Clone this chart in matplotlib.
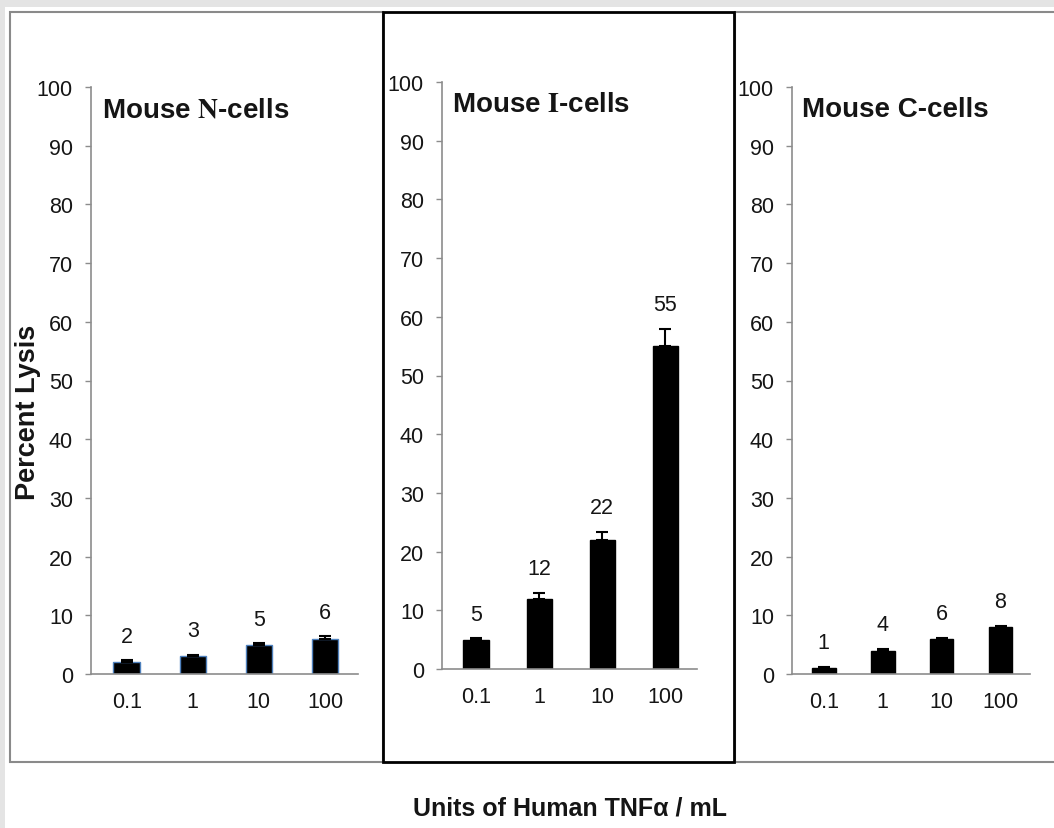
#!/usr/bin/env python3
"""Percent lysis of mouse N-, I- and C-cells by human TNF-alpha dose."""
import matplotlib

matplotlib.use("Agg")
import matplotlib.pyplot as plt
from matplotlib.patches import Rectangle

plt.rcParams["font.family"] = ["Liberation Sans", "DejaVu Sans"]
plt.rcParams["mathtext.fontset"] = "stix"

doses = ["0.1", "1", "10", "100"]

n_cells = [2, 3, 5, 6]
n_err = [0.3, 0.2, 0.2, 0.4]

i_cells = [5, 12, 22, 55]
i_err = [0.2, 0.9, 1.3, 2.9]

c_cells = [1, 4, 6, 8]
c_err = [0.2, 0.3, 0.2, 0.2]

W, H = 1054, 829
fig = plt.figure(figsize=(W / 100, H / 100), dpi=100)
fig.patch.set_facecolor("white")


def px_rect(x0, y0, x1, y1, **kw):
    # rectangle given in pixel coords measured from top-left
    r = Rectangle((x0 / W, 1 - y1 / H), (x1 - x0) / W, (y1 - y0) / H,
                  transform=fig.transFigure, **kw)
    fig.add_artist(r)
    return r


# light grey frame strips
px_rect(0, 0, W, 8, facecolor="#e4e4e4", edgecolor="none")
px_rect(0, 0, 5, H, facecolor="#e4e4e4", edgecolor="none")

# panel boxes
px_rect(10, 13, 383, 763, facecolor="none", edgecolor="#8a8a8a", lw=1.5)
px_rect(735, 13, 1060, 763, facecolor="none", edgecolor="#8a8a8a", lw=1.5)
px_rect(383, 13, 734, 763, facecolor="none", edgecolor="black", lw=2.0)

panels = [
    # (left, right, top, bottom) in px, title, values, errors, bar edge
    ((91, 358, 88, 675), r"Mouse $\mathbf{N}$-cells", n_cells, n_err, "#4f81bd"),
    ((442, 697, 83, 670), r"Mouse $\mathbf{I}$-cells", i_cells, i_err, "black"),
    ((792, 1030, 88, 675), "Mouse C-cells", c_cells, c_err, "black"),
]

text_col = "#151515"

for (l, r, t, b), title, vals, errs, edge in panels:
    ax = fig.add_axes([l / W, 1 - b / H, (r - l) / W, (b - t) / H])
    ax.set_facecolor("none")
    x = range(len(doses))
    ax.bar(x, vals, width=0.4, color="black", edgecolor=edge, linewidth=1.0,
           yerr=[[0] * len(errs), errs], capsize=4,
           error_kw=dict(ecolor="black", elinewidth=1.5, capthick=1.5))
    for xi, v, e in zip(x, vals, errs):
        ax.annotate(str(v), (xi, v + e), xytext=(0, 10), textcoords="offset points",
                    ha="center", va="bottom", fontsize=15.5, color=text_col)
    ax.set_xlim(-0.54, 3.5)
    ax.set_ylim(0, 100)
    ax.set_yticks(range(0, 101, 10))
    ax.set_xticks(list(x))
    ax.set_xticklabels(doses)
    for side in ("top", "right"):
        ax.spines[side].set_visible(False)
    for side in ("left", "bottom"):
        ax.spines[side].set_color("#8c8c8c")
        ax.spines[side].set_linewidth(1.2)
    ax.tick_params(axis="y", length=4, width=1.0, color="#8c8c8c", pad=9,
                   labelsize=15.5, labelcolor=text_col)
    ax.tick_params(axis="x", length=0, pad=12, labelsize=15.5, labelcolor=text_col)
    ax.text(0.04, 0.962, title, transform=ax.transAxes, fontsize=20,
            fontweight="bold", va="center", ha="left", color=text_col)

fig.text(28 / W, 1 - 412 / H, "Percent Lysis", rotation=90, fontsize=19.5,
         fontweight="bold", ha="center", va="center", color=text_col)
fig.text(570 / W, 1 - 809 / H, "Units of Human TNFα / mL", fontsize=18,
         fontweight="bold", ha="center", va="center", color=text_col)

fig.savefig("out.png", dpi=100)
